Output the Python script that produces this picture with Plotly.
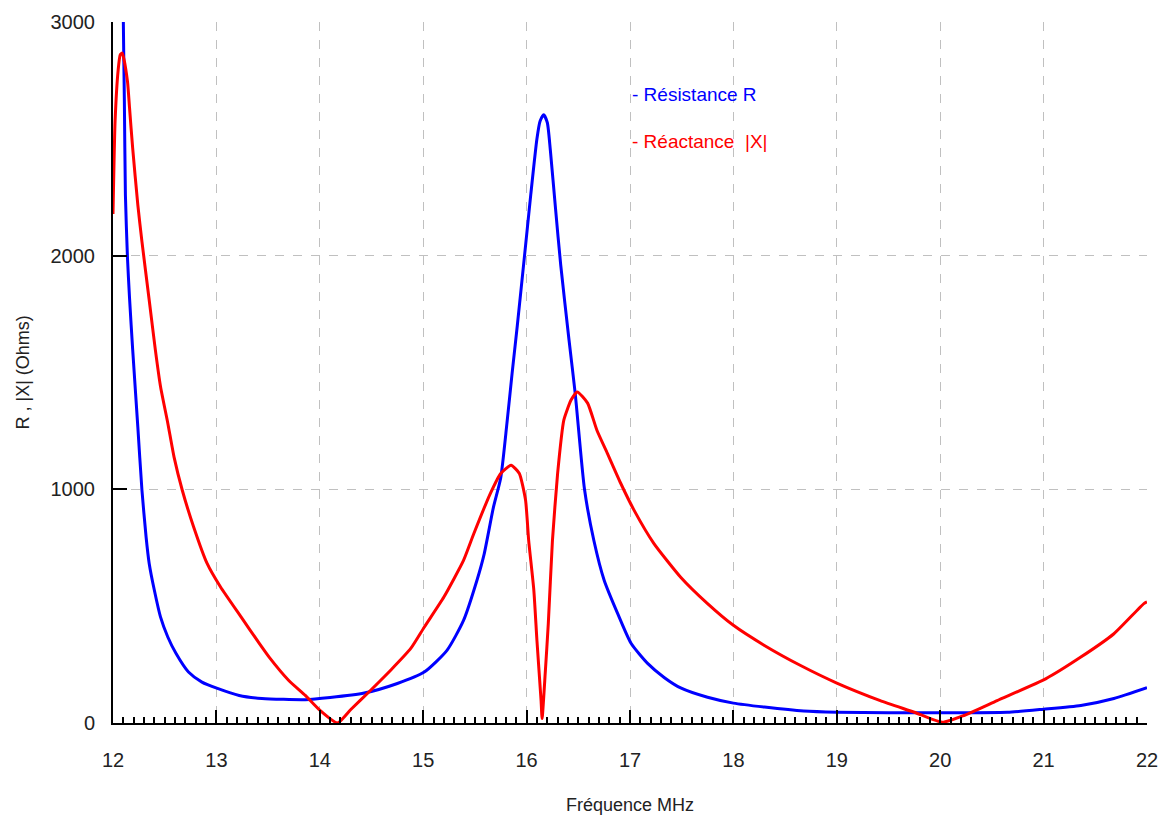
import plotly.graph_objects as go

# Resistance R (blue)
freq_r = [12.095, 12.10, 12.11, 12.12, 12.14, 12.16, 12.19, 12.24, 12.28, 12.32,
          12.35, 12.40, 12.46, 12.53, 12.61, 12.73, 12.86, 13.01, 13.22, 13.44,
          13.86, 14.1, 14.43, 14.75, 15.01, 15.23, 15.39, 15.52, 15.59, 15.68,
          15.75, 15.81, 15.86, 15.91, 15.98, 16.04, 16.10, 16.13, 16.165, 16.20,
          16.23, 16.28, 16.33, 16.41, 16.47, 16.56, 16.65, 16.75, 16.88, 17.01,
          17.17, 17.33, 17.49, 17.75, 18.0, 18.3, 18.68, 19.0, 19.5, 20.0,
          20.65, 21.0, 21.36, 21.68, 22.0]
resistance = [3400, 3000, 2660, 2260, 1990, 1818, 1600, 1267, 996, 796,
              683, 568, 453, 368, 297, 218, 175, 148, 118, 105,
              100, 109, 128, 169, 218, 311, 439, 611, 724, 925,
              1050, 1283, 1497, 1700, 2000, 2260, 2500, 2575, 2603, 2570,
              2450, 2200, 1960, 1640, 1411, 1000, 782, 611, 469, 341,
              255, 195, 150, 110, 85, 68, 51, 46, 44, 44,
              46, 59, 75, 105, 151]

# Reactance |X| (red)
freq_x = [12.0, 12.02, 12.05, 12.07, 12.09, 12.14, 12.16, 12.19, 12.24, 12.28,
          12.35, 12.41, 12.46, 12.53, 12.59, 12.67, 12.78, 12.91, 13.04, 13.24,
          13.40, 13.51, 13.70, 13.86, 14.0, 14.17, 14.30, 14.48, 14.69, 14.88,
          15.01, 15.20, 15.39, 15.49, 15.65, 15.75, 15.85, 15.93, 15.99, 16.02,
          16.07, 16.10, 16.14, 16.15, 16.18, 16.21, 16.25, 16.30, 16.36, 16.43,
          16.49, 16.59, 16.68, 16.78, 16.91, 17.04, 17.23, 17.49, 17.75, 18.0,
          18.3, 18.65, 19.0, 19.42, 19.75, 20.02, 20.23, 20.55, 21.02, 21.36,
          21.68, 21.97, 22.0]
reactance = [2178, 2574, 2795, 2860, 2867, 2746, 2632, 2461, 2217, 2060,
             1810, 1596, 1439, 1283, 1139, 996, 839, 683, 582, 453,
             350, 282, 182, 118, 55, 0, 58, 135, 228, 319,
             410, 539, 696, 811, 983, 1068, 1103, 1068, 953, 782,
             568, 353, 96, 19, 212, 426, 782, 1068, 1296, 1382,
             1417, 1369, 1253, 1155, 1026, 910, 769, 624, 511, 418,
             332, 246, 171, 96, 46, 3, 32, 96, 189, 282,
             382, 511, 518]

x_ticks = list(range(12, 23))
y_ticks = [0, 1000, 2000, 3000]

font_name = "Liberation Sans"
text_col = "#222222"

fig = go.Figure()
fig.add_trace(go.Scatter(x=freq_r, y=resistance, mode="lines",
                         line=dict(color="#0000ff", width=3, shape="spline", smoothing=0.6),
                         name="Résistance R"))
fig.add_trace(go.Scatter(x=freq_x, y=reactance, mode="lines",
                         line=dict(color="#ff0000", width=3, shape="spline", smoothing=0.5),
                         name="Réactance |X|"))

fig.update_xaxes(
    range=[12, 22], tickvals=x_ticks, ticks="inside", ticklen=13, tickwidth=1.5,
    tickcolor="black", showline=True, linecolor="black", linewidth=2,
    showgrid=True, gridcolor="#c0c0c0", griddash="dash", gridwidth=1,
    zeroline=False, ticklabelstandoff=18, automargin=False,
    tickfont=dict(family=font_name, size=20, color=text_col),
    minor=dict(dtick=0.1, ticks="inside", ticklen=6, tickwidth=1.5,
               tickcolor="black", showgrid=False),
)
fig.update_yaxes(
    range=[0, 3000], tickvals=y_ticks, ticks="inside", ticklen=14, tickwidth=1.5,
    tickcolor="black", showline=True, linecolor="black", linewidth=2,
    showgrid=True, gridcolor="#c0c0c0", griddash="dash", gridwidth=1,
    zeroline=False, ticklabelstandoff=12, automargin=False,
    tickfont=dict(family=font_name, size=20, color=text_col),
)

fig.add_annotation(text="Fréquence MHz", xref="paper", yref="paper", x=0.5, y=0,
                   yshift=-82, showarrow=False, yanchor="middle",
                   font=dict(family=font_name, size=18, color=text_col))
fig.add_annotation(text="R , |X| (Ohms)", xref="paper", yref="paper", x=0, y=0.5,
                   xshift=-91, showarrow=False, textangle=-90, xanchor="center",
                   font=dict(family=font_name, size=18, color=text_col))

# legend drawn as text
fig.add_annotation(text="- Résistance R", xref="paper", yref="paper", x=0.5, y=0.896,
                   xanchor="left", yanchor="middle", showarrow=False,
                   font=dict(family=font_name, size=19, color="#0000ff"))
fig.add_annotation(text="- Réactance\u00a0 |X|", xref="paper", yref="paper", x=0.5, y=0.830,
                   xanchor="left", yanchor="middle", showarrow=False,
                   font=dict(family=font_name, size=19, color="#ff0000"))

# page body adds an 8px offset, so margins are shifted to keep the plot box in place
fig.update_layout(
    width=1169, height=823, showlegend=False,
    margin=dict(l=105, r=30, t=14, b=108),
    plot_bgcolor="white", paper_bgcolor="white",
)
fig.write_html("out.html")
